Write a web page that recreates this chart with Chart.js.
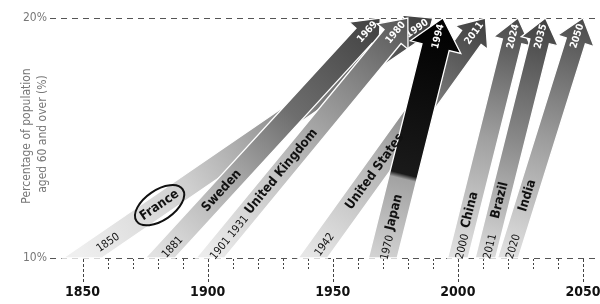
<!DOCTYPE html>
<html><head><meta charset="utf-8">
<script src="https://cdn.jsdelivr.net/npm/chart.js@4"></script>
<style>html,body{margin:0;padding:0;background:#fff}#wrap{width:600px;height:304px;position:relative}</style>
</head><body><div id="wrap"><canvas id="c"></canvas></div>
<script>
// ---- data ----
const countries   = ['France','Sweden','United Kingdom','United States','Japan','China','Brazil','India'];
const startYears  = [1850, 1881, 1901, 1942, 1970, 2000, 2011, 2020];
const endYears    = [1990, 1969, 1980, 2011, 1994, 2024, 2035, 2050];
const startLabels = ['1850','1881','1901 1931','1942','1970','2000','2011','2020'];
const yTicks      = [10, 20];
const xTicks      = [1850, 1900, 1950, 2000, 2050];
const yTitle      = ['Percentage of population', 'aged 60 and over (%)'];

// ---- styles (not data) ----
const FONT = "'Liberation Sans Narrow','DejaVu Sans Condensed','Liberation Sans',sans-serif";
const styles = [
  {w:11,hw:20,hl:24,nameF:0.22,startF:0.07,stops:[[0,'#efefef'],[0.3,'#cfcfcf'],[0.6,'#8a8a8a'],[1,'#3c3c3c']]},
  {w:11,hw:20,hl:24,nameF:0.28,startF:0.05,stops:[[0,'#e2e2e2'],[0.3,'#b0b0b0'],[0.6,'#6e6e6e'],[1,'#404040']]},
  {w:11,hw:20,hl:24,nameF:0.36,startF:0.09,stops:[[0,'#ececec'],[0.35,'#c4c4c4'],[0.7,'#8a8a8a'],[1,'#555']]},
  {w:12,hw:20,hl:24,nameF:0.36,startF:0.06,stops:[[0,'#e6e6e6'],[0.4,'#b3b3b3'],[0.75,'#6a6a6a'],[1,'#3e3e3e']]},
  {w:14,hw:26,hl:30,nameF:0.19,startF:0.045,stops:[[0,'#d2d2d2'],[0.33,'#a2a2a2'],[0.35,'#1a1a1a'],[1,'#000']]},
  {w:10,hw:19,hl:24,nameF:0.20,startF:0.05,stops:[[0,'#e2e2e2'],[0.5,'#a0a0a0'],[1,'#484848']]},
  {w:10,hw:19,hl:24,nameF:0.24,startF:0.05,stops:[[0,'#dcdcdc'],[0.5,'#888'],[1,'#404040']]},
  {w:10,hw:19,hl:24,nameF:0.26,startF:0.05,stops:[[0,'#e2e2e2'],[0.5,'#9c9c9c'],[1,'#4a4a4a']]}
];

function geom(chart,i){
  const meta = chart.getDatasetMeta(i);
  const b = meta.data[0], t = meta.data[1];
  const bx=b.x, by=b.y, tx=t.x, ty=t.y;
  const dx=tx-bx, dy=ty-by, len=Math.hypot(dx,dy);
  const ux=dx/len, uy=dy/len;
  return {bx,by,tx,ty,dx,dy,ux,uy,nx:-uy,ny:ux,ang:Math.atan2(dy,dx)};
}
function put(ctx,txt,px,py,ang,font,color){
  ctx.save(); ctx.translate(px,py); ctx.rotate(ang);
  ctx.font=font; ctx.fillStyle=color; ctx.textAlign='center'; ctx.textBaseline='middle';
  ctx.fillText(txt,0,0); ctx.restore();
}

const arrowPlugin = {
  id:'arrows',
  beforeDatasetsDraw(chart){
    const ctx = chart.ctx, ys = chart.scales.y, a = chart.chartArea;
    ctx.save();
    ctx.strokeStyle = '#555'; ctx.lineWidth = 1.2; ctx.setLineDash([6,5]);
    yTicks.forEach(v=>{
      const y = Math.round(ys.getPixelForValue(v))+0.5;
      ctx.beginPath(); ctx.moveTo(a.left, y); ctx.lineTo(600, y); ctx.stroke();
    });
    ctx.restore();
  },
  afterDatasetsDraw(chart){
    const ctx = chart.ctx;
    countries.forEach((name,i)=>{
      const G=geom(chart,i), st=styles[i], w=st.w, hw=st.hw, hl=st.hl;
      const {bx,by,tx,ty,ux,uy,nx,ny}=G;
      const hx=tx-ux*hl, hy=ty-uy*hl;
      const cut = s => { const px=bx+nx*w*s, py=by+ny*w*s; const k=(by-py)/uy; return [px+ux*k, py+uy*k]; };
      const e1=cut(1), e2=cut(-1);
      ctx.save();
      ctx.beginPath();
      ctx.moveTo(e1[0],e1[1]);
      ctx.lineTo(hx+nx*w, hy+ny*w);
      ctx.lineTo(hx+nx*hw, hy+ny*hw);
      ctx.lineTo(tx,ty);
      ctx.lineTo(hx-nx*hw, hy-ny*hw);
      ctx.lineTo(hx-nx*w, hy-ny*w);
      ctx.lineTo(e2[0],e2[1]);
      ctx.closePath();
      const g = ctx.createLinearGradient(bx,by,tx,ty);
      st.stops.forEach(([o,c])=>g.addColorStop(o,c));
      ctx.fillStyle=g; ctx.fill();
      ctx.strokeStyle='#fff'; ctx.lineWidth=1.3; ctx.stroke();
      ctx.restore();
      put(ctx,String(endYears[i]), tx-ux*19, ty-uy*19, G.ang, "bold 10px "+FONT,'#fff');
    });
    countries.forEach((name,i)=>{
      const G=geom(chart,i), st=styles[i];
      const nxp=G.bx+G.dx*st.nameF, nyp=G.by+G.dy*st.nameF;
      put(ctx,name,nxp,nyp,G.ang,"bold 13px "+FONT,'#111');
      if(i===0){
        ctx.save(); ctx.beginPath(); ctx.ellipse(nxp,nyp,28,15,G.ang,0,Math.PI*2);
        ctx.strokeStyle='#111'; ctx.lineWidth=2; ctx.stroke(); ctx.restore();
      }
      put(ctx,startLabels[i], G.bx+G.dx*st.startF+G.nx*2, G.by+G.dy*st.startF+G.ny*2, G.ang, "11px "+FONT,'#111');
    });
  },
  afterDraw(chart){
    const ctx=chart.ctx, xs=chart.scales.x, a=chart.chartArea;
    ctx.save();
    ctx.strokeStyle='#444'; ctx.lineWidth=1;
    for(let yr=1850; yr<=2050; yr+=10){
      const x=Math.round(xs.getPixelForValue(yr))+0.5;
      const major = xTicks.includes(yr);
      ctx.setLineDash(major?[3,2]:[2,2]);
      ctx.beginPath(); ctx.moveTo(x,a.bottom+1); ctx.lineTo(x, a.bottom+(major?24:12)); ctx.stroke();
    }
    ctx.setLineDash([]);
    ctx.fillStyle='#777'; ctx.font="12px "+FONT; ctx.textAlign='center'; ctx.textBaseline='middle';
    [[27,136],[43,134]].forEach(([x,y],k)=>{
      ctx.save(); ctx.translate(x,y); ctx.rotate(-Math.PI/2); ctx.fillText(yTitle[k],0,0); ctx.restore();
    });
    ctx.restore();
  }
};

const datasets = countries.map((c,i)=>({
  label:c,
  data:[{x:startYears[i],y:yTicks[0]},{x:endYears[i],y:yTicks[1]}],
  showLine:false, pointRadius:0, pointHoverRadius:0
}));

new Chart(document.getElementById('c'),{
  type:'scatter',
  data:{datasets},
  options:{
    responsive:true, maintainAspectRatio:false, animation:false,
    devicePixelRatio:1,
    layout:{padding:{top:18,right:2,left:0,bottom:0}},
    plugins:{legend:{display:false},tooltip:{enabled:false}},
    scales:{
      x:{type:'linear',min:1837,max:2056,
        grid:{display:false,drawTicks:false},border:{display:false},
        afterBuildTicks(s){ s.ticks = xTicks.map(v=>({value:v})); },
        ticks:{padding:26,color:'#111',maxRotation:0,autoSkip:false,
          font:{family:FONT,size:14,weight:'bold'},callback:v=>String(v)},
        afterFit(s){ s.height=46; s.paddingLeft=0; s.paddingRight=0; }
      },
      y:{min:10,max:20,
        grid:{display:false,drawTicks:false},border:{display:false},
        afterBuildTicks(s){ s.ticks = yTicks.map(v=>({value:v})); },
        ticks:{padding:3,color:'#777',font:{family:FONT,size:12},callback:v=>v+'%'},
        afterFit(s){ s.width=50; s.paddingTop=0; s.paddingBottom=0; }
      }
    }
  },
  plugins:[arrowPlugin]
});
</script>
</body></html>
